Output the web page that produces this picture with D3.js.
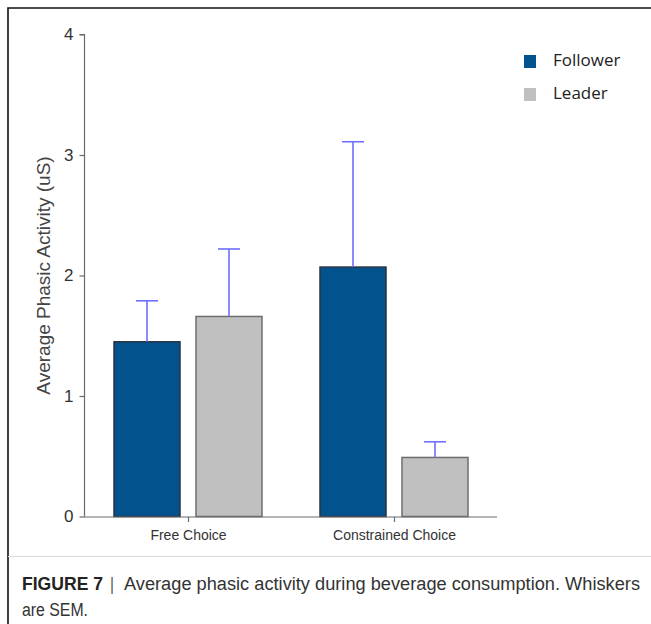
<!DOCTYPE html>
<html>
<head>
<meta charset="utf-8">
<script src="https://cdn.jsdelivr.net/npm/d3@7"></script>
<style>
  html, body { margin: 0; padding: 0; background: #fff; }
  svg { display: block; }
</style>
</head>
<body>
<svg id="chart" width="651" height="624"></svg>
<script>
// Phasic activity by choice condition and role (mean ± SEM)
const categories = ["Free Choice", "Constrained Choice"];
const series = ["Follower", "Leader"];
const followerMeans = [1.45, 2.07];
const followerSEM = [0.34, 1.04];
const leaderMeans = [1.66, 0.49];
const leaderSEM = [0.56, 0.13];
const yTicks = [0, 1, 2, 3, 4];

const colors = { Follower: "#02528e", Leader: "#c0c0c0" };
const strokes = { Follower: "#2a3440", Leader: "#6e6e6e" };

const rows = [];
categories.forEach((c, i) => {
  rows.push({ cat: c, ser: "Follower", mean: followerMeans[i], sem: followerSEM[i] });
  rows.push({ cat: c, ser: "Leader", mean: leaderMeans[i], sem: leaderSEM[i] });
});

const svg = d3.select("#chart");

// outer frame
svg.append("path")
  .attr("d", "M8,640 L8,8 L660,8")
  .attr("fill", "none")
  .attr("stroke", "#111")
  .attr("stroke-width", 1.6);

const y = d3.scaleLinear().domain([0, 4]).range([516.5, 34.5]);
const x0 = d3.scalePoint().domain(categories).range([188, 394]);
const x1 = d3.scaleBand().domain(series).range([-74, 74]).paddingInner(0.195);

const axisColor = "#6b6b6b";

// y axis
const yAxis = svg.append("g")
  .attr("transform", "translate(84.5,0)")
  .call(d3.axisLeft(y).tickValues(yTicks).tickFormat(d3.format("d")).tickSize(5).tickPadding(6));
yAxis.select(".domain").attr("stroke", axisColor).attr("stroke-width", 1.2).attr("d", `M-5,${y(4)}H0V${y(0)}`);
yAxis.selectAll(".tick line").attr("stroke", axisColor).attr("stroke-width", 1.2);
yAxis.selectAll(".tick text")
  .attr("fill", "#333")
  .style("font-family", "'Liberation Sans', Arial, sans-serif")
  .style("font-size", "17px");

// bars
const g = svg.append("g");
g.selectAll("rect.bar")
  .data(rows)
  .join("rect")
  .attr("class", "bar")
  .attr("x", d => x0(d.cat) + x1(d.ser))
  .attr("y", d => y(d.mean))
  .attr("width", x1.bandwidth())
  .attr("height", d => y(0) - y(d.mean))
  .attr("fill", d => colors[d.ser])
  .attr("stroke", d => strokes[d.ser])
  .attr("stroke-width", 1.5);

// SEM whiskers (upper only)
const capHalf = 11;
const whisk = g.selectAll("g.whisker")
  .data(rows)
  .join("g")
  .attr("class", "whisker")
  .attr("stroke", "#6f6fff")
  .attr("stroke-width", 1.6);
whisk.append("line")
  .attr("x1", d => x0(d.cat) + x1(d.ser) + x1.bandwidth() / 2)
  .attr("x2", d => x0(d.cat) + x1(d.ser) + x1.bandwidth() / 2)
  .attr("y1", d => y(d.mean))
  .attr("y2", d => y(d.mean + d.sem));
whisk.append("line")
  .attr("x1", d => x0(d.cat) + x1(d.ser) + x1.bandwidth() / 2 - capHalf)
  .attr("x2", d => x0(d.cat) + x1(d.ser) + x1.bandwidth() / 2 + capHalf)
  .attr("y1", d => y(d.mean + d.sem))
  .attr("y2", d => y(d.mean + d.sem));

// x axis
svg.append("line")
  .attr("x1", 84).attr("x2", 497)
  .attr("y1", y(0) + 0.5).attr("y2", y(0) + 0.5)
  .attr("stroke", axisColor).attr("stroke-width", 1.2);
const xAxis = svg.append("g")
  .attr("transform", `translate(0,${y(0) + 0.5})`)
  .call(d3.axisBottom(x0).tickSize(5).tickPadding(8));
xAxis.select(".domain").remove();
xAxis.selectAll(".tick line").attr("stroke", axisColor).attr("stroke-width", 1.2);
xAxis.selectAll(".tick text")
  .attr("fill", "#333")
  .style("font-family", "'Liberation Sans', Arial, sans-serif")
  .style("font-size", "14px");

// y axis title
svg.append("text")
  .attr("transform", `translate(50,${y(2)}) rotate(-90)`)
  .attr("text-anchor", "middle")
  .attr("fill", "#444")
  .style("font-family", "'Liberation Sans', Arial, sans-serif")
  .style("font-size", "19px")
  .text("Average Phasic Activity (uS)");

// legend
const legend = svg.append("g").attr("transform", "translate(524,50)");
series.forEach((s, i) => {
  const row = legend.append("g").attr("transform", `translate(0,${i * 33})`);
  row.append("rect")
    .attr("x", 0).attr("y", 5).attr("width", 12).attr("height", 13)
    .attr("fill", colors[s]);
  row.append("text")
    .attr("x", 29).attr("y", 16)
    .attr("fill", "#222")
    .style("font-family", "'Open Sans', 'Noto Sans', sans-serif")
    .style("font-size", "17px")
    .text(s);
});

// separator above caption
svg.append("line")
  .attr("x1", 8).attr("x2", 660)
  .attr("y1", 556.5).attr("y2", 556.5)
  .attr("stroke", "#d8d8d8").attr("stroke-width", 1);

// caption, set in a condensed style
const capFont = "'Liberation Sans', Arial, sans-serif";
function capText(str, x, yPos, len, opts = {}) {
  return svg.append("text")
    .attr("x", x).attr("y", yPos)
    .attr("fill", opts.fill || "#333")
    .attr("font-weight", opts.bold ? "bold" : null)
    .attr("textLength", len)
    .attr("lengthAdjust", "spacingAndGlyphs")
    .style("font-family", capFont)
    .style("font-size", "18px")
    .text(str);
}
capText("FIGURE 7", 22, 590, 81, { bold: true, fill: "#222" });
capText("|", 110, 590, 4, { fill: "#555" });
capText("Average phasic activity during beverage consumption. Whiskers", 124, 590, 516);
capText("are SEM.", 22, 616, 66);
</script>
</body>
</html>
